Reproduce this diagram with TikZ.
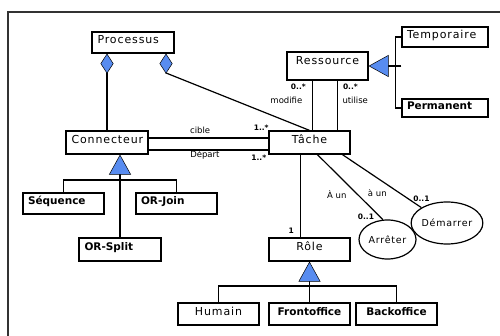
\documentclass[tikz,border=0pt]{standalone}
\usepackage{fontspec}
\setmainfont{DejaVu Sans}
\newfontfamily\boxfont[LetterSpace=8]{DejaVu Sans}
\usepackage{tikz}
\usetikzlibrary{arrows.meta, shapes.geometric}
\definecolor{umlblue}{RGB}{88,140,240}

\begin{document}
\begin{tikzpicture}[
    x=1pt, y=-1pt,
    line width=1.2pt,
    block/.style={rectangle, draw, minimum width=81pt, minimum height=22pt, inner sep=0pt, text height=8pt, text depth=5pt, font=\boxfont\fontsize{11}{13}\selectfont},
    lblock/.style={block, text width=71pt, align=left},
    bblock/.style={block, font=\bfseries\fontsize{10.5}{12}\selectfont},
    lbblock/.style={bblock, text width=71pt, align=left},
    event/.style={ellipse, draw, inner sep=0pt, font=\boxfont\fontsize{9.5}{11}\selectfont},
    role-label/.style={inner sep=1pt, font=\fontsize{8.5}{9}\selectfont},
    mult/.style={inner sep=1pt, font=\bfseries\fontsize{7.5}{8}\selectfont},
    gen/.style={-{Triangle[length=20pt, width=22pt, fill=umlblue, line width=0.5pt]}},
    agg/.style={-{Diamond[length=20pt, width=13pt, fill=umlblue, line width=0.5pt]}},
    frame/.style={line width=1.3pt, draw=black!80}
]
\useasboundingbox (0,0) rectangle (500,336);
\draw[frame] (8,336) |- (500,12);

% Nodes
\node [lblock, minimum width=82pt, minimum height=21pt] (processus) at (133,42.5) {Processus};
\node [lblock, minimum width=82pt, minimum height=23pt] (connecteur) at (107,142.5) {Connecteur};
\node [block, minimum height=23pt] (tache) at (309.5,142.5) {Tâche};
\node [block, minimum height=28pt, text depth=11pt] (ressource) at (327.5,66) {Ressource};
\node [lblock, minimum width=86pt, text width=76pt, minimum height=20pt] (temporaire) at (445,37) {Temporaire};
\node [lbblock, minimum width=86pt, text width=76pt, minimum height=18pt] (permanent) at (445,108) {Permanent};
\node [lbblock, minimum height=21pt] (sequence) at (63.5,203.5) {Séquence};
\node [lbblock, minimum height=21pt] (or-join) at (176.5,203.5) {OR-Join};
\node [lbblock, minimum width=82pt, minimum height=23pt] (or-split) at (120,249.5) {OR-Split};
\node [block, minimum height=23pt] (role) at (309.5,249.5) {Rôle};
\node [block] (humain) at (218.5,314) {Humain};
\node [bblock] (frontoffice) at (309.5,314) {Frontoffice};
\node [bblock] (backoffice) at (396.5,314) {Backoffice};
\node [event, minimum width=57pt, minimum height=39pt] (arreter) at (387.5,239.5) {Arrêter};
\node [event, minimum width=70pt, minimum height=42pt] (demarrer) at (447,223) {Démarrer};

\coordinate (conn-fork) at (120,180);
\coordinate (role-fork) at (309.5,286);
\coordinate (agg-tache) at (166,73);

% Arrows
\draw[agg] (connecteur.north) -- (connecteur.north |- processus.south);
\draw[agg] (tache.north) -- (agg-tache) -- (agg-tache |- processus.south);
\draw ([yshift=4.5pt]connecteur.east) -- node[pos=0.43, above=3pt, role-label] (cible) {cible} node[pos=0.94, above=6pt, mult] (m-cible) {1..*} ([yshift=4.5pt]tache.west);
\draw ([yshift=-7.5pt]connecteur.east) -- node[pos=0.47, below=-1pt, role-label] (depart) {Départ} node[pos=0.92, below=3pt, mult] (m-depart) {1..*} ([yshift=-7.5pt]tache.west);
\draw ([xshift=26pt]ressource.south west) -- node[pos=0.12, left=5pt, mult] (m-modifie) {0..*} node[pos=0.39, left=8.5pt, role-label] (modifie) {modifie} ([xshift=26pt]ressource.south west |- tache.north);
\draw ([xshift=51pt]ressource.south west) -- node[pos=0.12, right=4pt, mult] (m-utilise) {0..*} node[pos=0.39, right=3.5pt, role-label] (utilise) {utilise} ([xshift=51pt]ressource.south west |- tache.north);
\draw[gen] (temporaire.west |- ressource.east) -- (ressource.east);
\draw (temporaire.west) -- ++(-6,0) |- (permanent.west);
\draw (sequence.north) |- (conn-fork) -| (or-join.north);
\draw[gen] (or-split.north) -- (or-split.north |- connecteur.south);
\draw ([xshift=32pt]tache.south west) -- node[pos=0.92, left=5pt, mult] (m-role) {1} ([xshift=32pt]tache.south west |- role.north);
\draw (humain.north) |- (role-fork) -| (backoffice.north);
\draw[gen] (frontoffice.north) -- (role.south);
\draw ([xshift=49pt]tache.south west) -- node[pos=0.62, left=10pt, role-label] (a-un-arr) {À un} node[pos=0.95, left=4pt, mult] (m-arreter) {0..1} (arreter.103);
\draw ([xshift=74pt]tache.south west) -- node[pos=0.72, left=11pt, role-label] (a-un-dem) {à un} node[pos=1, above=4pt, mult] (m-demarrer) {0..1} (demarrer.149);
\end{tikzpicture}
\end{document}
